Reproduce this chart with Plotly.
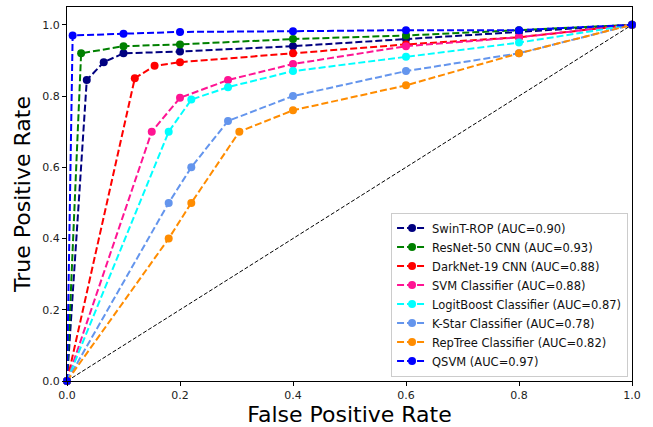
import plotly.graph_objects as go

names = ["SwinT-ROP (AUC=0.90)", "ResNet-50 CNN (AUC=0.93)", "DarkNet-19 CNN (AUC=0.88)",
         "SVM Classifier (AUC=0.88)", "LogitBoost Classifier (AUC=0.87)",
         "K-Star Classifier (AUC=0.78)", "RepTree Classifier (AUC=0.82)", "QSVM (AUC=0.97)"]
colors = ["#000080", "#008000", "#ff0000", "#ff1493", "#00ffff", "#6495ed", "#ff8c00", "#0000ff"]

swint_fpr = [0, 0.035, 0.065, 0.1, 0.2, 0.4, 0.6, 0.8, 1.0]
swint_tpr = [0, 0.845, 0.895, 0.92, 0.925, 0.94, 0.96, 0.98, 1.0]
resnet_fpr = [0, 0.025, 0.1, 0.2, 0.4, 0.6, 0.8, 1.0]
resnet_tpr = [0, 0.92, 0.94, 0.945, 0.96, 0.97, 0.985, 1.0]
darknet_fpr = [0, 0.12, 0.155, 0.2, 0.4, 0.6, 0.8, 1.0]
darknet_tpr = [0, 0.85, 0.885, 0.895, 0.92, 0.945, 0.965, 1.0]
svm_fpr = [0, 0.15, 0.2, 0.285, 0.4, 0.6, 0.8, 1.0]
svm_tpr = [0, 0.70, 0.795, 0.845, 0.89, 0.94, 0.965, 1.0]
logit_fpr = [0, 0.18, 0.22, 0.285, 0.4, 0.6, 0.8, 1.0]
logit_tpr = [0, 0.70, 0.79, 0.825, 0.87, 0.91, 0.95, 1.0]
kstar_fpr = [0, 0.18, 0.22, 0.285, 0.4, 0.6, 0.8, 1.0]
kstar_tpr = [0, 0.50, 0.60, 0.73, 0.80, 0.87, 0.92, 1.0]
reptree_fpr = [0, 0.18, 0.22, 0.305, 0.4, 0.6, 0.8, 1.0]
reptree_tpr = [0, 0.40, 0.50, 0.70, 0.76, 0.83, 0.92, 1.0]
qsvm_fpr = [0, 0.01, 0.1, 0.2, 0.4, 0.6, 0.8, 1.0]
qsvm_tpr = [0, 0.97, 0.975, 0.98, 0.982, 0.985, 0.985, 1.0]

fprs = [swint_fpr, resnet_fpr, darknet_fpr, svm_fpr, logit_fpr, kstar_fpr, reptree_fpr, qsvm_fpr]
tprs = [swint_tpr, resnet_tpr, darknet_tpr, svm_tpr, logit_tpr, kstar_tpr, reptree_tpr, qsvm_tpr]

ticks = [0.0, 0.2, 0.4, 0.6, 0.8, 1.0]
tick_labels = ["0.0", "0.2", "0.4", "0.6", "0.8", "1.0"]

fig = go.Figure()
fig.add_trace(go.Scatter(x=[0, 1], y=[0, 1], mode="lines", showlegend=False,
                         line=dict(color="black", width=1, dash="4px,2px"), hoverinfo="skip"))
for n, c, fx, ty in zip(names, colors, fprs, tprs):
    fig.add_trace(go.Scatter(x=fx, y=ty, mode="lines+markers", name=n,
                             line=dict(color=c, width=2, dash="7px,3px"),
                             marker=dict(color=c, size=8), cliponaxis=False))

axis_common = dict(showline=True, linecolor="black", linewidth=1, mirror=True,
                   ticks="outside", ticklen=4, tickcolor="black", showgrid=False,
                   zeroline=False, tickvals=ticks, ticktext=tick_labels,
                   tickfont=dict(family="DejaVu Sans", size=11, color="#222"))

fig.update_layout(
    width=653, height=427,
    margin=dict(l=67, r=21, t=7, b=46, autoexpand=False),
    plot_bgcolor="white", paper_bgcolor="white",
    font=dict(family="DejaVu Sans", color="black"),
    xaxis=dict(range=[0, 1], automargin=False,
               title=dict(text="False Positive Rate", font=dict(size=22)), **axis_common),
    yaxis=dict(range=[0, 1.05], automargin=True,
               title=dict(text="True Positive Rate", font=dict(size=22), standoff=5), **axis_common),
    legend=dict(x=0.993, y=0.012, xanchor="right", yanchor="bottom",
                bgcolor="rgba(255,255,255,0.85)", bordercolor="#cccccc", borderwidth=1,
                font=dict(size=11.5, family="DejaVu Sans", color="#111"),
                tracegroupgap=0, itemwidth=30),
)
fig.write_html("out.html", config={"displayModeBar": False},
               post_script="document.body.style.margin='0';document.body.style.overflow='hidden';")
